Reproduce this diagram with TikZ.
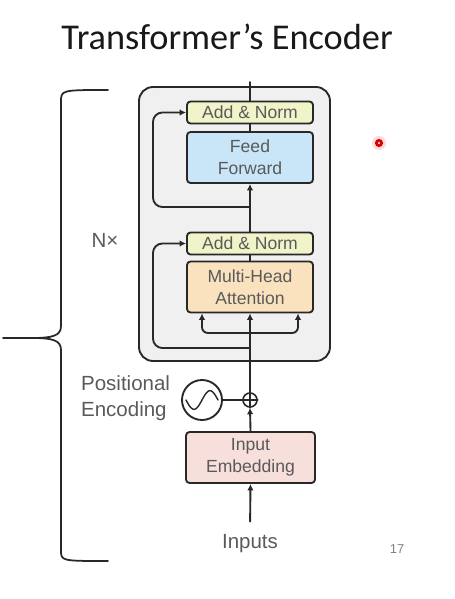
\documentclass[tikz,border=0pt]{standalone}
\usepackage{fontspec}
\setmainfont{Liberation Sans}
\newfontfamily\titlefont{Carlito}
\usepackage{tikz}
\usetikzlibrary{arrows.meta,calc}
\definecolor{normcol}{RGB}{241,244,200}
\definecolor{ffcol}{RGB}{200,230,247}
\definecolor{attcol}{RGB}{251,226,190}
\definecolor{embcol}{RGB}{247,223,220}
\definecolor{layercol}{RGB}{240,240,240}
\definecolor{edgecol}{RGB}{40,40,40}
\definecolor{labelcol}{RGB}{90,90,90}

\begin{document}
\begin{tikzpicture}[x=0.03cm, y=-0.03cm, line cap=round, line join=round,
    block/.style={draw=edgecol, line width=1.6pt, rounded corners=3pt, minimum width=3.78cm,
      inner sep=0pt, align=center, text=labelcol, font=\fontsize{15}{18.5}\selectfont},
    normbox/.style={block, fill=normcol, minimum height=0.66cm},
    tallbox/.style={block, minimum height=1.53cm},
    link/.style={draw=edgecol, line width=1.6pt},
    arrow/.style={link, -{Latex[length=5.5pt,width=5.5pt]}},
    outlabel/.style={text=labelcol, font=\fontsize{17.5}{22}\selectfont}]

    \useasboundingbox (0,0) rectangle (454,599);

    % --- 1. Title ---
    \node[anchor=base, text=black!90, font=\titlefont\fontsize{31}{36}\selectfont]
        (title) at (227,50) {Transformer’s Encoder};

    % --- 2. Encoder layer ---
    \node[draw=edgecol, line width=1.6pt, fill=layercol, rounded corners=12pt,
        minimum width=5.73cm, minimum height=8.22cm] (layer) at (234.5,224) {};

    \node[normbox] (addtop) at (250,112.5) {Add \& Norm};
    \node[tallbox, fill=ffcol] (ff) at (250,157.5) {Feed\\Forward};
    \node[normbox] (addlow) at (250,243.5) {Add \& Norm};
    \node[tallbox, fill=attcol] (mha) at (250,287) {Multi-Head\\Attention};

    % --- 3. Embedding and positional encoding ---
    \node[tallbox, fill=embcol, minimum width=3.87cm] (emb) at (250.5,457.5) {Input\\Embedding};
    \node[circle, draw=edgecol, line width=1.4pt, minimum size=0.42cm, inner sep=0pt] (sum) at (250,400) {};
    \draw[link, line width=1.2pt] (sum.north) -- (sum.south) (sum.west) -- (sum.east);
    \node[circle, draw=edgecol, line width=1.6pt, minimum size=1.2cm, inner sep=0pt] (pe) at (202,400) {};
    % Sine wave in the encoding circle
    \draw[link, line width=1.2pt, shift={(pe.center)}, x=0.48cm, y=0.28cm, domain=-1:1, samples=40]
        plot (\x, {sin(\x*180)});

    \node[outlabel, anchor=west, align=left] (pelabel) at (77,398) {Positional\\Encoding};
    \node[outlabel, anchor=base] (inputs) at (250,548) {Inputs};
    \node[outlabel] (nx) at (105,240) {N×};

    % --- 4. Connections ---
    \coordinate (out) at (250,82);
    \draw[link] (addtop.north) -- (out);
    \draw[link] (ff.north) -- (addtop.south);
    \draw[arrow] (addlow.north) -- (ff.south);
    \draw[link] (mha.north) -- (addlow.south);

    % Residual paths
    \coordinate (res2) at (250,207);
    \draw[arrow, rounded corners=8pt] (res2) -- ++(-97,0) |- (addtop.west);
    \coordinate (res1) at (250,348);
    \draw[arrow, rounded corners=8pt] (res1) -- ++(-97,0) |- (addlow.west);

    % Inputs to the attention
    \draw[arrow] (sum.north) -- (mha.south);
    \coordinate (split) at (250,333);
    \foreach \side in {-48,48}
        \draw[arrow, rounded corners=5pt] (split) -| ([xshift=\side*0.03cm]mha.south);

    \draw[link] (pe) -- (sum);
    \draw[arrow] (emb.north) -- (sum.south);
    \draw[arrow, shorten <=7pt] (inputs.north) -- (emb.south);

    % --- 5. Brace ---
    \draw[link, line width=1.5pt] (108,90) .. controls (61,90) .. (61,102) -- (61,326)
        .. controls (61,336) and (52,338) .. (32,338) -- (3,338);
    \draw[link, line width=1.5pt] (32,338) .. controls (52,338) and (61,340) .. (61,350)
        -- (61,550) .. controls (61,561) .. (108,561);

    % --- 6. Slide extras ---
    \node[text=gray, font=\fontsize{11}{12}\selectfont] (page) at (397,549) {17};
    \fill[red!15] (379,143) circle (6pt);
    \fill[red!85!black] (379,143) circle (3.5pt);
    \fill[white] (379,143) circle (1pt);
  \end{tikzpicture}
\end{document}
